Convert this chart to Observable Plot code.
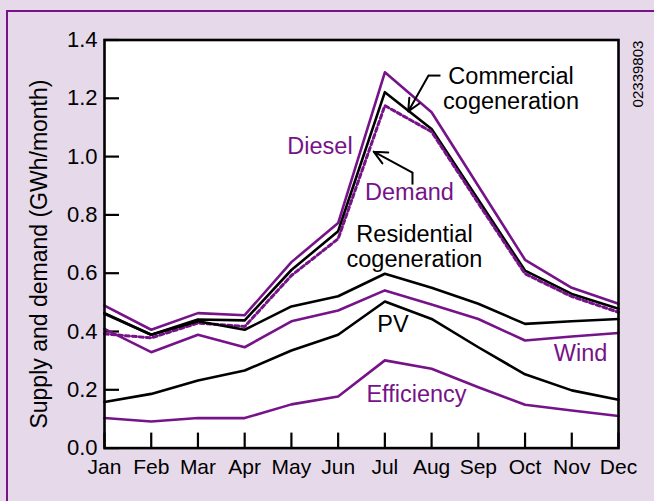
<!DOCTYPE html>
<html>
<head>
<meta charset="utf-8">
<script src="https://cdn.jsdelivr.net/npm/d3@7"></script>
<script src="https://cdn.jsdelivr.net/npm/@observablehq/plot@0.6"></script>
<style>
  html, body { margin: 0; padding: 0; background: #e6d9ea; }
  #wrap { position: relative; width: 654px; height: 501px; overflow: hidden; background: #e6d9ea; }
  #border { position: absolute; left: 6px; top: 10px; width: 700px; height: 600px;
            border-top: 2.5px solid #761389; border-left: 2.5px solid #761389; }
  #chart { position: absolute; left: 0; top: 0; }
</style>
</head>
<body>
<div id="wrap"><div id="border"></div><div id="chart"></div></div>
<script>
const months = ["Jan","Feb","Mar","Apr","May","Jun","Jul","Aug","Sep","Oct","Nov","Dec"];
const yTicks = [0, 0.2, 0.4, 0.6, 0.8, 1.0, 1.2, 1.4];

const diesel      = [0.489, 0.406, 0.463, 0.456, 0.638, 0.772, 1.289, 1.152, 0.899, 0.646, 0.550, 0.495];
const commercial  = [0.463, 0.389, 0.441, 0.438, 0.611, 0.744, 1.221, 1.095, 0.852, 0.609, 0.529, 0.478];
const demand      = [0.392, 0.378, 0.429, 0.417, 0.592, 0.718, 1.175, 1.085, 0.840, 0.598, 0.520, 0.466];
const residential = [0.461, 0.389, 0.435, 0.406, 0.486, 0.521, 0.598, 0.550, 0.495, 0.426, 0.435, 0.443];
const wind        = [0.409, 0.329, 0.389, 0.346, 0.435, 0.472, 0.541, 0.493, 0.443, 0.369, 0.383, 0.395];
const pv          = [0.158, 0.186, 0.232, 0.266, 0.335, 0.389, 0.503, 0.443, 0.346, 0.253, 0.198, 0.166];
const efficiency  = [0.103, 0.091, 0.103, 0.103, 0.150, 0.177, 0.301, 0.272, 0.209, 0.149, 0.129, 0.110];

const PURPLE = "#761389";
const rows = vals => vals.map((v, i) => ({m: i, v}));

const labels = [
  {t: "Diesel", x: 4.612, y: 1.038, c: PURPLE},
  {t: "Commercial\ncogeneration", x: 8.70, y: 1.235, c: "black"},
  {t: "Demand", x: 6.527, y: 0.880, c: PURPLE},
  {t: "Residential\ncogeneration", x: 6.634, y: 0.693, c: "black"},
  {t: "PV", x: 6.174, y: 0.427, c: "black"},
  {t: "Wind", x: 10.187, y: 0.328, c: PURPLE},
  {t: "Efficiency", x: 6.677, y: 0.187, c: PURPLE}
];

const leaders = [
  {x1: 7.19, y1: 1.278, x2: 6.934, y2: 1.278},
  {x1: 6.591, y1: 0.904, x2: 6.591, y2: 0.945}
];
const arrows = [
  {x1: 6.934, y1: 1.278, x2: 6.50, y2: 1.155},
  {x1: 6.591, y1: 0.945, x2: 5.76, y2: 1.017}
];

const font = "'Liberation Sans', Arial, Helvetica, sans-serif";
const lineOpts = (color, extra = {}) => ({x: "m", y: "v", stroke: color, strokeWidth: 2.6, ...extra});

// inward tick length (15px) expressed in each scale's units
const xTickLen = 15 / (514 / 11);
const yTickLen = 15 / (408.1 / 1.4);

const chart = Plot.plot({
  width: 654,
  height: 501,
  marginLeft: 104,
  marginRight: 36,
  marginTop: 39.5,
  marginBottom: 53.4,
  style: {background: "transparent", fontFamily: font, fontSize: "21px", color: "black", overflow: "visible"},
  x: {type: "linear", domain: [0, 11]},
  y: {domain: [0, 1.4]},
  marks: [
    Plot.frame({fill: "white", stroke: null}),
    Plot.ruleY(yTicks, {y: d => d, x1: 0, x2: xTickLen, stroke: "black", strokeWidth: 2.2}),
    Plot.ruleX(d3.range(12), {x: d => d, y1: 0, y2: yTickLen, stroke: "black", strokeWidth: 2.2}),
    Plot.line(rows(diesel), lineOpts(PURPLE)),
    Plot.line(rows(commercial), lineOpts("black")),
    Plot.line(rows(demand), lineOpts(PURPLE, {strokeWidth: 3, strokeDasharray: "4,3"})),
    Plot.line(rows(residential), lineOpts("black")),
    Plot.line(rows(wind), lineOpts(PURPLE)),
    Plot.line(rows(pv), lineOpts("black")),
    Plot.line(rows(efficiency), lineOpts(PURPLE)),
    Plot.link(leaders, {x1: "x1", y1: "y1", x2: "x2", y2: "y2", stroke: "black", strokeWidth: 2}),
    Plot.arrow(arrows, {x1: "x1", y1: "y1", x2: "x2", y2: "y2", stroke: "black", strokeWidth: 2, headLength: 11, headAngle: 50}),
    Plot.text(labels, {x: "x", y: "y", text: "t", fill: "c", fontSize: 23.5, lineHeight: 1.07, textAnchor: "middle", stroke: "white", strokeWidth: 3, paintOrder: "stroke"}),
    Plot.axisY(yTicks, {anchor: "left", tickSize: 0, tickPadding: 7, tickFormat: d3.format(".1f"), fontSize: 22, label: null}),
    Plot.axisX(d3.range(12), {anchor: "bottom", tickSize: 0, tickPadding: 11, tickFormat: i => months[i], fontSize: 21, label: null}),
    Plot.frame({stroke: "black", strokeWidth: 2.6}),
    Plot.text(["Supply and demand (GWh/month)"], {frameAnchor: "left", dx: -65, dy: 10, rotate: -90, fontSize: 23, textAnchor: "middle"}),
    Plot.text(["02339803"], {frameAnchor: "top-right", dx: 14, dy: 34, rotate: -90, fontSize: 15, textAnchor: "middle"})
  ]
});
document.getElementById("chart").appendChild(chart);
</script>
</body>
</html>
